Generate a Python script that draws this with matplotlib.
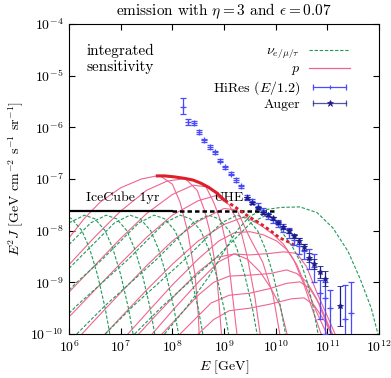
import numpy as np
import matplotlib
matplotlib.use('Agg')
import matplotlib.pyplot as plt
from matplotlib.lines import Line2D
from matplotlib.legend_handler import HandlerLine2D, HandlerTuple

# Computer Modern look
plt.rcParams['font.family'] = 'serif'
plt.rcParams['font.serif'] = ['cmr10']
plt.rcParams['mathtext.fontset'] = 'cm'
plt.rcParams['axes.unicode_minus'] = False
plt.rcParams['axes.formatter.use_mathtext'] = True

# ---- data as (log10 E [GeV], log10 E^2 J) ----
# proton spectra (pink)
p1 = [(6.0, -8.14), (6.3, -7.76), (6.6, -7.45), (7.0, -7.17), (7.4, -7.0), (7.75, -6.93),
      (8.0, -7.1), (8.15, -7.45), (8.3, -8.03), (8.44, -8.86), (8.5, -9.6), (8.52, -10.0)]
p2 = [(6.0, -8.66), (6.5, -8.12), (7.0, -7.62), (7.5, -7.22), (7.9, -7.04), (8.25, -6.99),
      (8.48, -7.22), (8.62, -7.6), (8.73, -8.03), (8.86, -8.86), (8.92, -9.6), (8.95, -10.0)]
p3 = [(6.0, -9.19), (6.5, -8.67), (7.0, -8.15), (7.5, -7.67), (8.0, -7.3), (8.4, -7.12),
      (8.65, -7.15), (8.8, -7.45), (8.95, -7.85), (9.06, -8.34), (9.17, -9.3), (9.25, -10.0)]
p4 = [(6.0, -9.67), (6.5, -9.15), (7.0, -8.63), (7.5, -8.13), (8.0, -7.7), (8.5, -7.42),
      (8.85, -7.32), (9.1, -7.5), (9.3, -7.9), (9.45, -8.5), (9.6, -9.3), (9.7, -10.0)]
p5 = [(6.25, -10.0), (6.5, -9.73), (7.0, -9.2), (7.5, -8.68), (8.0, -8.2), (8.5, -7.82),
      (9.0, -7.57), (9.25, -7.6), (9.5, -8.14), (9.75, -8.61), (9.95, -9.25), (10.08, -10.0)]
p6 = [(6.7, -10.0), (7.0, -9.68), (7.5, -9.15), (8.0, -8.65), (8.5, -8.2), (9.0, -7.88),
      (9.4, -7.73), (9.7, -7.89), (9.95, -8.07), (10.15, -8.26), (10.35, -8.56), (10.55, -9.05),
      (10.72, -9.55), (10.88, -10.0)]
p7 = [(7.61, -10.0), (8.0, -9.55), (8.5, -9.0), (8.9, -8.6), (9.2, -8.45), (9.45, -8.55),
      (9.7, -8.8), (9.9, -9.1), (10.08, -9.44), (10.22, -10.0)]
pa = [(7.14, -10.0), (7.5, -9.6), (8.0, -9.05), (8.5, -8.55), (8.9, -8.2), (9.2, -8.04),
      (9.5, -8.02), (9.76, -8.08), (10.02, -8.2), (10.21, -8.36), (10.41, -8.66), (10.6, -9.12),
      (10.79, -9.57), (10.99, -10.0)]
pb = [(7.35, -10.0), (7.7, -9.62), (8.1, -9.2), (8.5, -8.8), (8.85, -8.52), (9.2, -8.45),
      (9.5, -8.47), (9.89, -8.44), (10.15, -8.41), (10.41, -8.44), (10.6, -8.7), (10.79, -9.18),
      (10.99, -9.63), (11.15, -10.0)]
pc = [(7.8, -10.0), (8.1, -9.68), (8.5, -9.25), (8.8, -9.0), (9.1, -8.88), (9.5, -8.86),
      (9.89, -8.83), (10.21, -8.76), (10.41, -8.83), (10.6, -8.99), (10.79, -9.31), (10.95, -9.7),
      (11.08, -10.0)]
pd_ = [(8.15, -10.0), (8.45, -9.7), (8.75, -9.4), (9.1, -9.25), (9.5, -9.21), (9.89, -9.12),
       (10.21, -9.02), (10.47, -8.99), (10.66, -9.12), (10.86, -9.44), (11.05, -9.89), (11.1, -10.0)]
pe = [(8.5, -10.0), (8.8, -9.72), (9.1, -9.55), (9.5, -9.5), (9.9, -9.42), (10.3, -9.32),
      (10.55, -9.3), (10.75, -9.45), (10.95, -9.75), (11.08, -10.0)]

# neutrino spectra (green dashed)
g1 = [(6.0, -7.74), (6.05, -7.77), (6.25, -8.0), (6.4, -8.35), (6.55, -8.85), (6.7, -9.5), (6.79, -10.0)]
g2 = [(6.0, -7.85), (6.3, -7.70), (6.5, -7.77), (6.7, -8.0), (6.85, -8.35), (7.0, -8.85),
      (7.15, -9.5), (7.24, -10.0)]
g3 = [(6.0, -8.27), (6.12, -8.15), (6.42, -7.85), (6.72, -7.70), (6.92, -7.77), (7.12, -8.0),
      (7.27, -8.35), (7.42, -8.85), (7.57, -9.5), (7.66, -10.0)]
g4 = [(6.0, -8.73), (6.18, -8.55), (6.58, -8.15), (6.88, -7.85), (7.18, -7.70), (7.38, -7.77),
      (7.58, -8.0), (7.73, -8.35), (7.88, -8.85), (8.03, -9.5), (8.12, -10.0)]
g5 = [(6.0, -9.15), (6.15, -9.0), (6.65, -8.55), (7.05, -8.15), (7.35, -7.85), (7.65, -7.70),
      (7.85, -7.77), (8.05, -8.0), (8.2, -8.35), (8.35, -8.85), (8.5, -9.5), (8.59, -10.0)]
g6 = [(6.0, -9.6), (6.15, -9.45), (6.65, -9.0), (7.15, -8.55), (7.55, -8.15), (7.85, -7.85),
      (8.15, -7.70), (8.35, -7.77), (8.55, -8.0), (8.7, -8.35), (8.85, -8.85), (9.0, -9.5), (9.09, -10.0)]
g7 = [(6.15, -10.0), (6.7, -9.45), (7.2, -9.0), (7.7, -8.55), (8.1, -8.15), (8.4, -7.85),
      (8.7, -7.70), (8.9, -7.77), (9.1, -8.0), (9.25, -8.35), (9.4, -8.85), (9.55, -9.5), (9.64, -10.0)]
g8 = [(6.7, -10.0), (7.25, -9.45), (7.75, -9.0), (8.25, -8.55), (8.65, -8.15), (8.95, -7.85),
      (9.25, -7.70), (9.45, -7.77), (9.65, -8.0), (9.8, -8.35), (9.95, -8.85), (10.1, -9.5), (10.19, -10.0)]
g9 = [(7.27, -10.0), (7.82, -9.45), (8.32, -9.0), (8.82, -8.55), (9.22, -8.15), (9.52, -7.85),
      (9.82, -7.70), (10.0, -7.82), (10.14, -8.05), (10.34, -8.34), (10.5, -8.65), (10.61, -8.99),
      (10.72, -9.45), (10.82, -10.0)]
g10 = [(7.85, -10.0), (8.3, -9.45), (8.7, -8.9), (9.0, -8.4), (9.25, -8.0), (9.5, -7.72),
       (9.75, -7.6), (10.1, -7.55), (10.47, -7.54), (10.8, -7.65), (11.11, -7.95), (11.4, -8.4),
       (11.63, -8.92), (11.85, -9.5), (11.98, -10.0)]

# integrated sensitivity (red) and IceCube / UHE limits (black)
red_solid = [(7.68, -6.94), (7.85, -6.94), (8.05, -6.96), (8.25, -6.99), (8.40, -7.02),
             (8.55, -7.08), (8.7, -7.16), (8.86, -7.27), (9.02, -7.42)]
red_dotted = [(9.02, -7.42), (9.2, -7.53), (9.35, -7.64), (9.5, -7.74), (9.70, -7.86),
              (9.9, -8.0), (10.08, -8.14), (10.25, -8.22), (10.4, -8.3)]
icecube = [(6.0, -7.62), (8.0, -7.62)]
uhe = [(8.0, -7.62), (10.03, -7.62)]

# HiRes (E/1.2): log E, log flux, lower err, upper err (dex)
hires_logE = [8.21, 8.30, 8.42, 8.52, 8.61, 8.73, 8.83, 8.92, 9.02, 9.13, 9.23, 9.33, 9.45,
              9.55, 9.65, 9.75, 9.85, 9.95, 10.05, 10.15, 10.25, 10.35, 10.45, 10.55, 10.65,
              10.75, 10.85, 10.95, 11.05, 11.35, 11.45]
hires_logF = [-5.61, -5.90, -5.92, -6.09, -6.25, -6.38, -6.48, -6.65, -6.77, -6.90, -7.02, -7.14, -7.35,
              -7.43, -7.52, -7.62, -7.72, -7.80, -7.86, -7.95, -8.05, -8.18, -8.30, -8.40, -8.55,
              -8.70, -9.20, -9.30, -9.50, -9.70, -9.60]
hires_lo = [0.14, 0.06, 0.04, 0.03, 0.03, 0.03, 0.03, 0.03, 0.03, 0.03, 0.03, 0.03, 0.05,
            0.05, 0.05, 0.05, 0.06, 0.06, 0.07, 0.08, 0.10, 0.10, 0.15, 0.15, 0.20,
            0.30, 0.50, 0.70, 0.60, 0.60, 0.60]
hires_hi = [0.18, 0.06, 0.04, 0.03, 0.03, 0.03, 0.03, 0.03, 0.03, 0.03, 0.03, 0.03, 0.05,
            0.05, 0.05, 0.05, 0.06, 0.06, 0.07, 0.08, 0.10, 0.10, 0.15, 0.15, 0.20,
            0.25, 0.25, 0.30, 0.35, 0.65, 0.60]

# Auger
auger_logE = [9.45, 9.55, 9.65, 9.75, 9.85, 9.95, 10.05, 10.15, 10.25, 10.35, 10.45, 10.55,
              10.65, 10.75, 10.85, 10.95, 11.25]
auger_logF = [-7.37, -7.47, -7.57, -7.66, -7.70, -7.76, -7.85, -7.93, -8.01, -8.10, -8.20, -8.32,
              -8.52, -8.65, -8.80, -8.93, -9.46]
auger_err = [0.02, 0.02, 0.02, 0.02, 0.02, 0.03, 0.03, 0.03, 0.04, 0.04, 0.05, 0.06,
             0.08, 0.10, 0.12, 0.15, 0.38]

x_ticks = [1e6, 1e7, 1e8, 1e9, 1e10, 1e11, 1e12]
y_ticks = [1e-10, 1e-9, 1e-8, 1e-7, 1e-6, 1e-5, 1e-4]

pink_curves = [p1, p2, p3, p4, p5, p6, p7, pa, pb, pc, pd_, pe]
green_curves = [g1, g2, g3, g4, g5, g6, g7, g8, g9, g10]

PINK = '#f0658f'
GREEN = '#1f9a5a'
RED = '#dd1f2a'
HIRES = '#4a4aff'
AUGER = '#1c1c88'


def xy(pts):
    a = np.array(pts)
    return 10 ** a[:, 0], 10 ** a[:, 1]


fig = plt.figure(figsize=(3.91, 3.78), dpi=100)
ax = fig.add_axes([69 / 391, 44 / 378, 310 / 391, 310 / 378])

for c in pink_curves:
    ax.plot(*xy(c), color=PINK, lw=0.8, zorder=2)
for c in green_curves:
    ax.plot(*xy(c), color=GREEN, lw=0.8, dashes=(3, 1.6), zorder=2)

ax.plot(*xy(icecube), color='black', lw=1.6, zorder=4)
ax.plot(*xy(uhe), color='black', lw=1.8, dashes=(1.8, 1.2), zorder=4)
ax.plot(*xy(red_solid), color=RED, lw=2.2, zorder=5, solid_capstyle='butt')
ax.plot(*xy(red_dotted), color=RED, lw=2.0, dashes=(1.2, 1.0), zorder=5)

# data points
hE = 10 ** np.array(hires_logE)
hF = 10 ** np.array(hires_logF)
h_err = [hF - 10 ** (np.array(hires_logF) - np.array(hires_lo)),
         10 ** (np.array(hires_logF) + np.array(hires_hi)) - hF]
ax.errorbar(hE, hF, yerr=h_err, fmt='+', color=HIRES, ms=4, mew=0.9, elinewidth=0.9,
            capsize=2, capthick=0.9, zorder=6)

aE = 10 ** np.array(auger_logE)
aF = 10 ** np.array(auger_logF)
a_err = [aF - 10 ** (np.array(auger_logF) - np.array(auger_err)),
         10 ** (np.array(auger_logF) + np.array(auger_err)) - aF]
ax.errorbar(aE, aF, yerr=a_err, fmt='*', color=AUGER, ms=4, mew=0.6, elinewidth=0.9,
            capsize=2, capthick=0.9, zorder=7)

# legend proxies (gnuplot style: horizontal bar with end caps)
nu_h = Line2D([], [], color=GREEN, lw=0.8, dashes=(3, 1.6))
p_h = Line2D([], [], color=PINK, lw=0.9)
hires_cap = Line2D([], [], color=HIRES, lw=0.9, marker='|', ms=5, mew=0.9)
hires_mid = Line2D([], [], color=HIRES, ls='none', marker='|', ms=3.5, mew=0.9)
auger_cap = Line2D([], [], color=AUGER, lw=0.9, marker='|', ms=5, mew=0.9, alpha=0.75)
auger_mid = Line2D([], [], color=AUGER, ls='none', marker='*', ms=5, mew=0.5)
hmap = {hires_cap: HandlerLine2D(numpoints=2), hires_mid: HandlerLine2D(numpoints=1),
        auger_cap: HandlerLine2D(numpoints=2), auger_mid: HandlerLine2D(numpoints=1),
        tuple: HandlerTuple(ndivide=1)}
ax.legend([nu_h, p_h, (hires_cap, hires_mid), (auger_cap, auger_mid)],
          [r'$\nu_{e/\mu/\tau}$', '$p$', 'HiRes $(E/1.2)$', 'Auger'],
          handler_map=hmap, loc='upper right', bbox_to_anchor=(0.93, 0.955),
          frameon=False, markerfirst=False, fontsize=10, handlelength=3.0,
          labelspacing=0.12, borderpad=0, handletextpad=0.6)

ax.text(0.055, 0.935, 'integrated\nsensitivity', transform=ax.transAxes, fontsize=11,
        va='top', ha='left', linespacing=1.15)
ax.text(10 ** 6.33, 10 ** -7.37, 'IceCube 1yr', fontsize=10, va='center', ha='left')
ax.text(10 ** 8.79, 10 ** -7.37, 'UHE', fontsize=10, va='center', ha='left')

ax.set_xscale('log')
ax.set_yscale('log')
ax.set_xticks(x_ticks)
ax.set_yticks(y_ticks)
ax.minorticks_off()
ax.set_xlim(1e6, 1e12)
ax.set_ylim(1e-10, 1e-4)
ax.tick_params(which='major', direction='in', top=True, right=True, length=4,
               width=0.8, labelsize=10, pad=4)
ax.set_xlabel('$E$ [GeV]', fontsize=10, labelpad=2)
ax.set_ylabel(r'$E^2J$ [GeV cm$^{-2}$ s$^{-1}$ sr$^{-1}$]', fontsize=10, labelpad=3)
ax.set_title(r'emission with $\eta = 3$ and $\epsilon = 0.07$', fontsize=11, pad=6)

fig.savefig('out.png', dpi=100)
